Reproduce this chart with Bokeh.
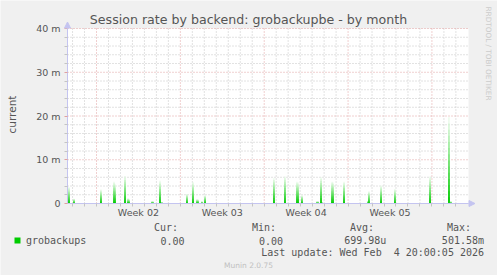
import numpy as np
from bokeh.plotting import figure
from bokeh.models import FixedTicker, Label, Arrow, NormalHead, Range1d
from bokeh.embed import file_html
from bokeh.resources import INLINE

# ---------------- data ----------------
# x in days since Monday 2026-01-05 00:00 (start of ISO week 02); 2-hour samples
week_starts = [0, 7, 14, 21, 28]
week_label_pos = [3.5, 10.5, 17.5, 24.5]
week_labels = ["Week 02", "Week 03", "Week 04", "Week 05"]
sample_days = [-2.34, -1.92, 0.33, 1.42, 1.50, 2.34, 2.59, 2.67, 4.59, 4.67,
               5.26, 5.34, 5.43, 7.51, 8.01, 8.35, 8.43, 8.76, 9.02,
               14.77, 15.69, 16.69, 16.78, 17.11, 18.36, 18.45, 18.70, 18.78,
               19.62, 19.70, 20.62, 22.62, 22.70, 23.71, 24.87, 27.80,
               29.38, 29.47, 29.55]
sample_values = [3.8, 1.1, 3.2, 5.0, 4.5, 6.3, 1.2, 1.0, 0.5, 0.5,
                 5.2, 0.3, 0.3, 2.2, 4.9, 1.0, 0.9, 0.5, 1.9,
                 5.8, 6.2, 5.0, 4.8, 1.9, 0.5, 0.5, 6.0, 0.3,
                 5.0, 4.8, 5.0, 0.6, 2.8, 4.1, 3.3, 6.2,
                 19.7, 0.5, 0.5]   # milli-sessions/s
sample_step_days = 2 / 24
y_ticks = [0, 10, 20, 30, 40]
y_tick_labels = ["0", "10 m", "20 m", "30 m", "40 m"]
title_text = "Session rate by backend: grobackupbe - by month"
y_label = "current"
series_name = "grobackups"
stat_headers = ["Cur:", "Min:", "Avg:", "Max:"]
stat_values = ["0.00", "0.00", "699.98u", "501.58m"]
last_update = "Last update: Wed Feb\u00a0 4 20:00:05 2026"
side_text = "RRDTOOL / TOBI OETIKER"
footer = "Munin 2.0.75"

# ---------------- layout ----------------
W, H = 497, 275
FL, FT, FR, FB = 67, 28, 468, 203      # plot area in page pixels
X0 = -2.42                             # day at left edge of plot area
PXD = 11.98                            # pixels per day
Y0, Y1 = 0, 40
PXY = (FB - FT) / (Y1 - Y0)            # pixels per unit

def dx(px):
    return X0 + (px - FL) / PXD

def dy(py):
    return (FB - py) / PXY

X1 = dx(FR)
BG = "#F0F0F0"
GREEN = "#00CC00"
AXIS = "#C4C4F0"
MINOR = "#C4C4C4"
MAJOR = "#E0A0A0"
TXT = "#555555"

p = figure(width=W, height=H, output_backend="svg", toolbar_location=None,
           x_range=Range1d(dx(0), dx(W)), y_range=Range1d(dy(H), dy(0)),
           min_border_left=0, min_border_right=0, min_border_top=0,
           min_border_bottom=0)
p.background_fill_color = BG
p.border_fill_color = BG
p.outline_line_color = None
p.xgrid.visible = False
p.ygrid.visible = False

# white canvas of the graph
p.quad(left=[X0], right=[X1], bottom=[Y0], top=[Y1], fill_color="white",
       line_color=None)

# grid lines
days = [d for d in range(-2, 31) if d not in week_starts]
ymin = [v for v in range(0, 41, 2) if v not in y_ticks]
p.segment(x0=days, x1=days, y0=Y0, y1=Y1, line_color=MINOR, line_dash="1 2")
p.segment(x0=X0, x1=X1, y0=ymin, y1=ymin, line_color=MINOR, line_dash="1 2")
p.segment(x0=week_starts, x1=week_starts, y0=Y0, y1=Y1, line_color=MAJOR,
          line_dash="1 2")
p.segment(x0=X0, x1=X1, y0=y_ticks[1:], y1=y_ticks[1:], line_color=MAJOR,
          line_dash="1 2")

# bars with vertical gradient (dark at base, light at top)
xs = np.array(sample_days)
vals = np.array(sample_values)
N = 14
for i in range(N):
    frac_top = (N - i) / N
    t = 0.88 * (N - 1 - i) / (N - 1)
    col = "#%02x%02x%02x" % (int(255 * t), int(204 + 51 * t), int(255 * t))
    p.quad(left=xs, right=xs + sample_step_days, bottom=0, top=vals * frac_top,
           fill_color=col, line_color=None)

# axes drawn at the edges of the graph canvas
p.xaxis.fixed_location = 0
p.xaxis.bounds = (X0, X1)
p.xaxis.ticker = FixedTicker(ticks=week_label_pos, minor_ticks=list(range(-2, 31)))
p.xaxis.major_label_overrides = dict(zip(week_label_pos, week_labels))
p.xaxis.major_tick_line_color = None
p.xaxis.major_tick_out = 0
p.xaxis.major_tick_in = 0
p.xaxis.minor_tick_line_color = MINOR
p.xaxis.minor_tick_out = 3
p.xaxis.minor_tick_in = 0
p.xaxis.major_label_standoff = 0
p.yaxis.fixed_location = X0
p.yaxis.bounds = (Y0, Y1)
p.yaxis.ticker = FixedTicker(ticks=y_ticks, minor_ticks=ymin)
p.yaxis.major_label_overrides = dict(zip(y_ticks, y_tick_labels))
p.yaxis.major_tick_line_color = MAJOR
p.yaxis.major_tick_out = 3
p.yaxis.major_tick_in = 0
p.yaxis.minor_tick_line_color = MINOR
p.yaxis.minor_tick_out = 3
p.yaxis.minor_tick_in = 0
p.yaxis.major_label_standoff = 4
for ax in (p.xaxis, p.yaxis):
    ax.axis_line_color = AXIS
    ax.major_label_text_font = "DejaVu Sans"
    ax.major_label_text_font_size = "9.5px"
    ax.major_label_text_color = TXT

# axis arrows
p.add_layout(Arrow(end=NormalHead(size=6, fill_color=AXIS, line_color=AXIS),
                   x_start=X0, y_start=Y1, x_end=X0, y_end=dy(21.5),
                   line_color=AXIS))
p.add_layout(Arrow(end=NormalHead(size=6, fill_color=AXIS, line_color=AXIS),
                   x_start=X1, y_start=0, x_end=dx(474.5), y_end=0,
                   line_color=AXIS))

def lab(text, px, py, size="10px", font="DejaVu Sans", color=TXT, align="left",
        baseline="middle", angle=0.0):
    p.add_layout(Label(x=dx(px), y=dy(py), text=text, text_font=font,
                       text_font_size=size, text_color=color, text_align=align,
                       text_baseline=baseline, angle=angle))

lab(title_text, 248, 19, size="12.6px", align="center")
lab(y_label, 11, 114, size="10.5px", align="center", angle=np.pi / 2)
lab(side_text, 488, 53, size="7.3px", color="#CCCCCC", align="center", angle=-np.pi / 2)
lab(footer, 248, 264.5, size="7.5px", color="#C0C0C0", align="center")

MONO = "DejaVu Sans Mono"
p.quad(left=[dx(14)], right=[dx(20)], top=[dy(237)], bottom=[dy(243)],
       fill_color=GREEN, line_color=None)
lab(series_name, 25.5, 240, font=MONO)
for hx, h in zip([153.5, 251.5, 349.5, 446.5], stat_headers):
    lab(h, hx, 227, font=MONO)
for vx, v in zip([184, 282.5, 385.8, 483.5], stat_values):
    lab(v, vx, 240, font=MONO, align="right")
lab(last_update, 483.5, 252, font=MONO, align="right")

open("out.html", "w").write(file_html(p, INLINE))
